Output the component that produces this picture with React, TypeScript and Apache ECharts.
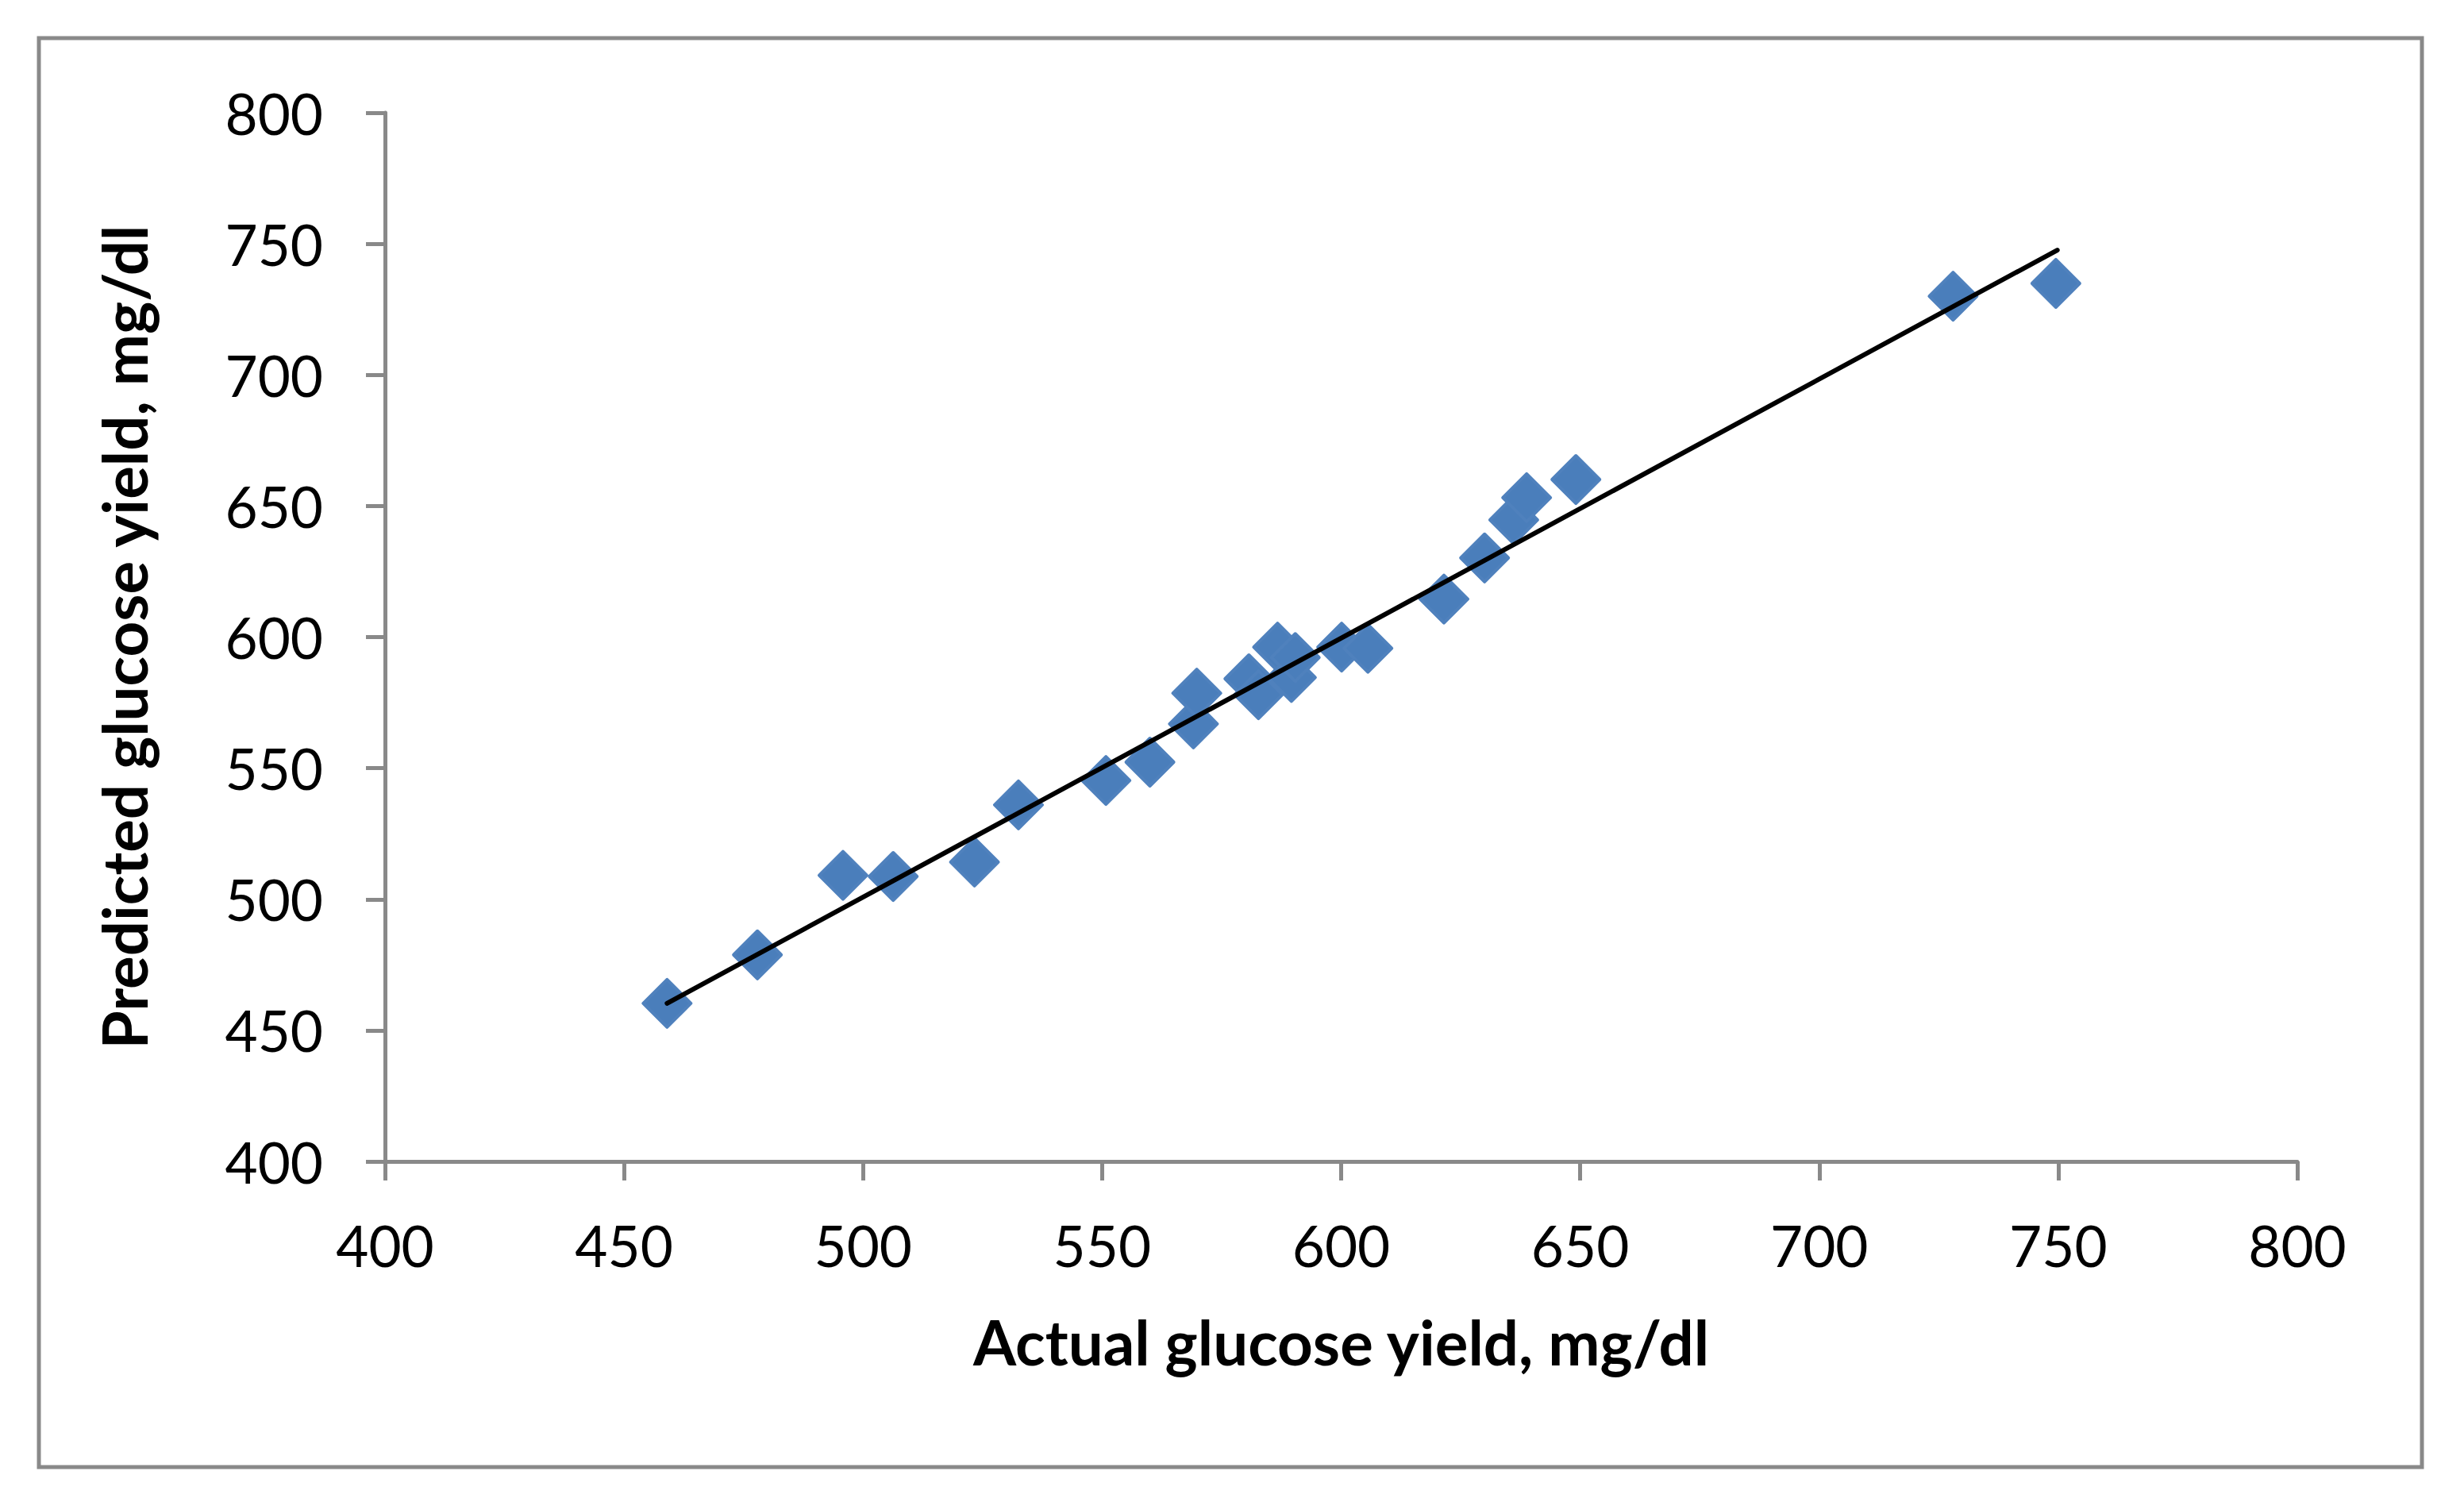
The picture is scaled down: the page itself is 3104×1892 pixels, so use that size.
import { useEffect, useRef } from "react";
import * as echarts from "echarts";

// Actual vs predicted glucose yield (mg/dl)
const actualYield = [
  459.0, 477.9, 495.8, 506.3, 523.3, 532.5, 550.8, 560.0, 569.1, 569.8, 580.7, 582.7,
  586.7, 589.6, 590.4, 600.1, 605.6, 621.5, 630.0, 636.1, 638.8, 649.1, 728.0, 749.5,
];
const predictedYield = [
  460.3, 478.8, 509.1, 508.7, 514.2, 536.0, 545.3, 552.3, 566.9, 578.6, 584.1, 578.0,
  596.2, 584.6, 592.2, 596.2, 595.7, 614.5, 630.2, 644.7, 653.2, 660.1, 730.0, 734.9,
];

// Fitted line end points
const fitActual = [459.0, 749.8];
const fitPredicted = [460.3, 747.6];

// Axis scale
const axisMin = 400;
const axisMax = 800;
const axisStep = 50;

const xAxisTitle = "Actual glucose yield, mg/dl";
const yAxisTitle = "Predicted glucose yield, mg/dl";

const AXIS_GRAY = "#898989";
const MARKER_BLUE = "#4a7ebb";

export default function App() {
  const ref = useRef<HTMLDivElement>(null);

  useEffect(() => {
    if (!ref.current) return;
    const chart = echarts.init(ref.current, undefined, { renderer: "svg" });

    const points = actualYield.map((x, i) => [x, predictedYield[i]]);
    const fit = fitActual.map((x, i) => [x, fitPredicted[i]]);

    const axisCommon = {
      type: "value" as const,
      min: axisMin,
      max: axisMax,
      interval: axisStep,
      splitLine: { show: false },
      axisLine: { show: true, onZero: false, lineStyle: { color: AXIS_GRAY, width: 5 } },
      axisTick: { show: true, inside: false, length: 24, lineStyle: { color: AXIS_GRAY, width: 5 } },
      nameLocation: "middle" as const,
      nameTextStyle: {
        fontFamily: "Lato",
        fontWeight: "bold" as const,
        fontSize: 78,
        color: "#000",
      },
    };

    chart.setOption({
      animation: false,
      backgroundColor: "#ffffff",
      grid: { left: 485, right: 210, top: 142, bottom: 429, containLabel: false },
      xAxis: {
        ...axisCommon,
        name: xAxisTitle,
        nameGap: 188,
        axisLabel: { fontFamily: "Lato", fontSize: 71, color: "#000", margin: 70 },
      },
      yAxis: {
        ...axisCommon,
        name: yAxisTitle,
        nameGap: 290,
        axisLabel: { fontFamily: "Lato", fontSize: 71, color: "#000", margin: 78 },
      },
      graphic: [
        {
          type: "rect",
          shape: { x: 49, y: 48, width: 3002, height: 1800 },
          style: { fill: "none", stroke: AXIS_GRAY, lineWidth: 5 },
          z: -1,
          silent: true,
        },
      ],
      series: [
        {
          type: "scatter",
          data: points,
          symbol: "diamond",
          symbolSize: 60,
          itemStyle: {
            color: MARKER_BLUE,
            borderColor: "#4f81bd",
            borderWidth: 4,
            borderJoin: "round",
            opacity: 1,
          },
          z: 2,
        },
        {
          type: "line",
          data: fit,
          symbol: "none",
          lineStyle: { color: "#000", width: 6, cap: "round" },
          z: 3,
        },
      ],
    });

    return () => chart.dispose();
  }, []);

  return (
    <div
      ref={ref}
      style={{ position: "fixed", left: 0, top: 0, width: 3104, height: 1892, background: "#fff" }}
    />
  );
}
